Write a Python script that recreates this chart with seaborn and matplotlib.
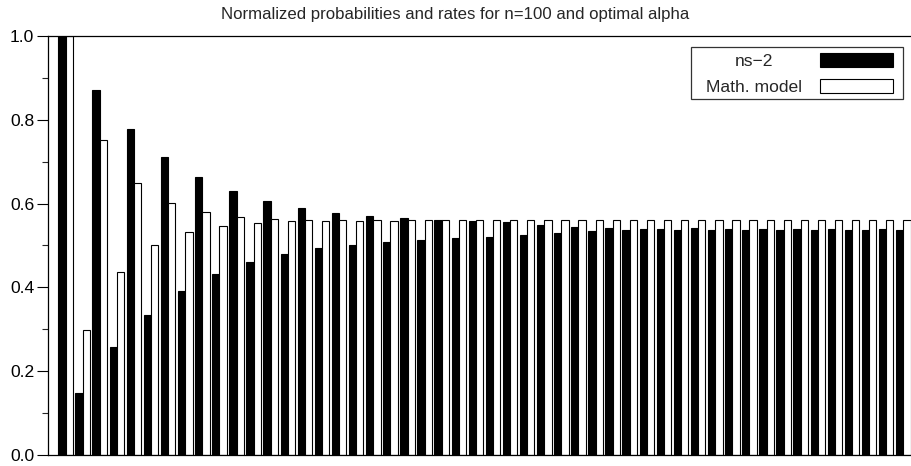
import matplotlib
matplotlib.use("Agg")
import matplotlib.pyplot as plt
from matplotlib.patches import Rectangle
from matplotlib.ticker import MultipleLocator, FormatStrFormatter
import numpy as np
import pandas as pd
import seaborn as sns

# Normalized values per step index (1..50)
steps = list(range(1, 51))
ns2 = [1.000, 0.147, 0.871, 0.257, 0.779, 0.335, 0.712, 0.391, 0.664, 0.431,
       0.630, 0.460, 0.606, 0.480, 0.589, 0.493, 0.578, 0.502, 0.570, 0.509,
       0.565, 0.514, 0.560, 0.518, 0.558, 0.521, 0.555, 0.525, 0.548, 0.531,
       0.545, 0.535, 0.542, 0.536, 0.539, 0.539, 0.536, 0.542, 0.536, 0.539,
       0.537, 0.540, 0.536, 0.539, 0.537, 0.539, 0.537, 0.537, 0.539, 0.536]
model = [1.000, 0.298, 0.752, 0.436, 0.648, 0.502, 0.601, 0.533, 0.579, 0.547,
         0.569, 0.554, 0.564, 0.558, 0.562, 0.559, 0.561, 0.559, 0.560, 0.559,
         0.560, 0.560, 0.560, 0.560, 0.560, 0.560, 0.560, 0.560, 0.560, 0.560,
         0.560, 0.560, 0.560, 0.560, 0.560, 0.560, 0.560, 0.560, 0.560, 0.560,
         0.560, 0.560, 0.560, 0.560, 0.560, 0.560, 0.560, 0.560, 0.560, 0.560]
series_names = ["ns\u22122", "Math. model"]
title = "Normalized probabilities and rates for n=100 and optimal alpha"

df = pd.DataFrame({
    "step": steps * 2,
    "value": ns2 + model,
    "source": [series_names[0]] * len(steps) + [series_names[1]] * len(steps),
})

sns.set_style("ticks")
plt.rcParams["font.family"] = ["Liberation Sans", "DejaVu Sans"]

W, H = 911, 466
fig = plt.figure(figsize=(W / 100, H / 100), dpi=100)
ax = fig.add_axes([48.3 / W, 11 / H, 1 - 48.3 / W, (455 - 36) / H])

sns.barplot(data=df, x="step", y="value", hue="source", order=steps,
            hue_order=series_names,
            palette={series_names[0]: "black", series_names[1]: "white"},
            width=0.85, gap=0, saturation=1, edgecolor="black",
            linewidth=0.8, legend=False, ax=ax)

ax.set_xlim(-1.01, 49.45)
ax.set_ylim(0, 1.0)
ax.set_xticks([])
ax.set_xlabel("")
ax.set_ylabel("")
ax.yaxis.set_major_locator(MultipleLocator(0.2))
ax.yaxis.set_minor_locator(MultipleLocator(0.1))
ax.yaxis.set_major_formatter(FormatStrFormatter("%.1f"))
ax.tick_params(axis="y", which="major", length=8, width=0.8, pad=2.2,
               labelsize=12.6, direction="out", colors="black")
ax.tick_params(axis="y", which="minor", length=4.3, width=0.8, direction="out")
for side in ("left", "top", "bottom"):
    ax.spines[side].set_visible(True)
    ax.spines[side].set_color("black")
    ax.spines[side].set_linewidth(0.9)
ax.spines["right"].set_visible(False)

fig.text(455.5 / W, 1 - 19 / H, title, ha="center", va="baseline", fontsize=12.1)

# Boxed key in the upper right
def fx(px):
    return px / W

def fy(py):
    return 1 - py / H

fig.patches.append(Rectangle((fx(690.7), fy(99.3)), fx(902.7) - fx(690.7), fy(46.7) - fy(99.3),
                             transform=fig.transFigure, fill=False,
                             edgecolor="#333333", linewidth=0.9))
key_fill = ["black", "white"]
key_rows = [(53.3, 66.7), (79.3, 92.7)]
for name, fc, (y0, y1) in zip(series_names, key_fill, key_rows):
    fig.patches.append(Rectangle((fx(820), fy(y1)), fx(892.7) - fx(820), fy(y0) - fy(y1),
                                 transform=fig.transFigure, facecolor=fc,
                                 edgecolor="black", linewidth=0.8))
    fig.text(fx(754.0), fy((y0 + y1) / 2), name, ha="center", va="center_baseline",
             fontsize=12.6)

fig.savefig("out.png", dpi=100)
